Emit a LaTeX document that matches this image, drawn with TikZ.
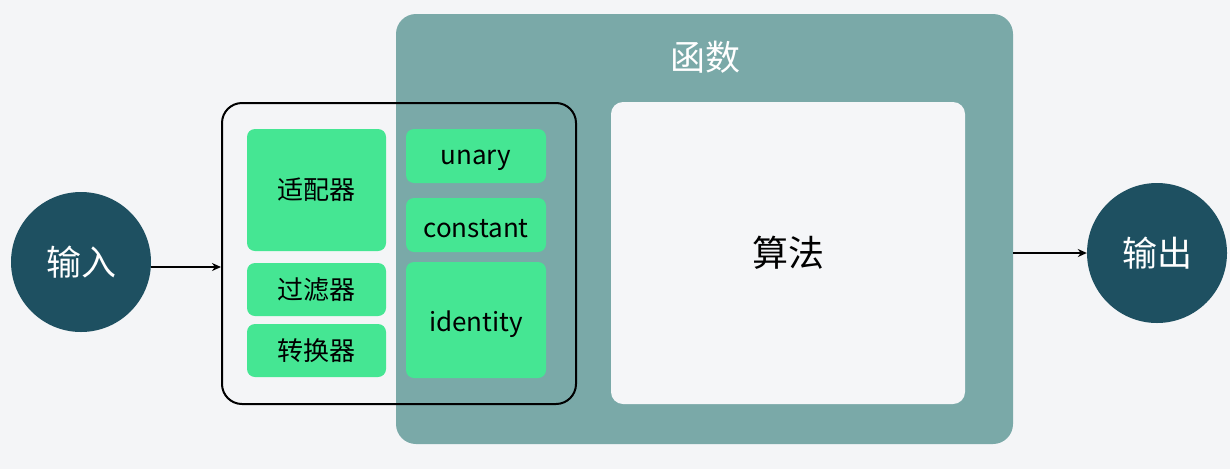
\documentclass[tikz,border=0pt]{standalone}
\usepackage{fontspec}
\setmainfont{Noto Sans CJK SC}
\usetikzlibrary{arrows.meta,calc}
\definecolor{bgc}{HTML}{F4F5F7}
\definecolor{tealc}{HTML}{7AA9A8}
\definecolor{darkc}{HTML}{1E5061}
\definecolor{greenc}{HTML}{45E693}
\definecolor{whitebox}{HTML}{F5F6F8}
\newcommand{\lowtxt}[1]{\raisebox{-4pt}[\height][\depth]{#1}}
\begin{document}
\begin{tikzpicture}[x=1pt,y=-1pt,
  greenbox/.style={fill=greenc,rounded corners=8pt,draw=none,inner sep=0pt,font=\fontsize{26}{30}\selectfont,text=black},
  circ/.style={circle,fill=darkc,text=white,minimum size=140pt,inner sep=0pt,font=\fontsize{35}{40}\selectfont},
  arr/.style={-{Stealth[length=9pt,width=8pt]},line width=1.6pt,black}]
\fill[bgc] (0,0) rectangle (1230,469);
\useasboundingbox (0,0) rectangle (1230,469);
% function box
\node[fill=tealc,rounded corners=20pt,minimum width=617pt,minimum height=430pt,inner sep=0pt] (fn) at (704.5,229) {};
\node[text=white,font=\fontsize{35}{40}\selectfont] (fntitle) at (705,57) {函数};
\node[fill=whitebox,rounded corners=12pt,minimum width=354pt,minimum height=302pt,inner sep=0pt,font=\fontsize{36}{40}\selectfont] (alg) at (788,253) {算法};
% group outline
\node[draw=black,line width=2pt,rounded corners=20pt,minimum width=354pt,minimum height=301pt,inner sep=0pt] (grp) at (399,253.5) {};
% green boxes
\node[greenbox,minimum width=139pt,minimum height=122pt] (adp) at (316.5,190) {适配器};
\node[greenbox,minimum width=139pt,minimum height=53pt] (flt) at (316.5,289.5) {过滤器};
\node[greenbox,minimum width=139pt,minimum height=53pt] (cvt) at (316.5,350.5) {转换器};
\node[greenbox,minimum width=140pt,minimum height=54pt] (una) at (476,156) {\lowtxt{unary}};
\node[greenbox,minimum width=140pt,minimum height=54pt] (cst) at (476,225) {\lowtxt{constant}};
\node[greenbox,minimum width=140pt,minimum height=116pt] (idt) at (476,320) {\lowtxt{identity}};
% circles
\node[circ] (in) at (81,262) {输入};
\node[circ] (out) at (1157,253) {输出};
% arrows
\coordinate (a1) at (151,267);
\draw[arr] (a1) -- (a1 -| grp.west);
\draw[arr] (out.west -| fn.east) -- (out.west);
\end{tikzpicture}
\end{document}
